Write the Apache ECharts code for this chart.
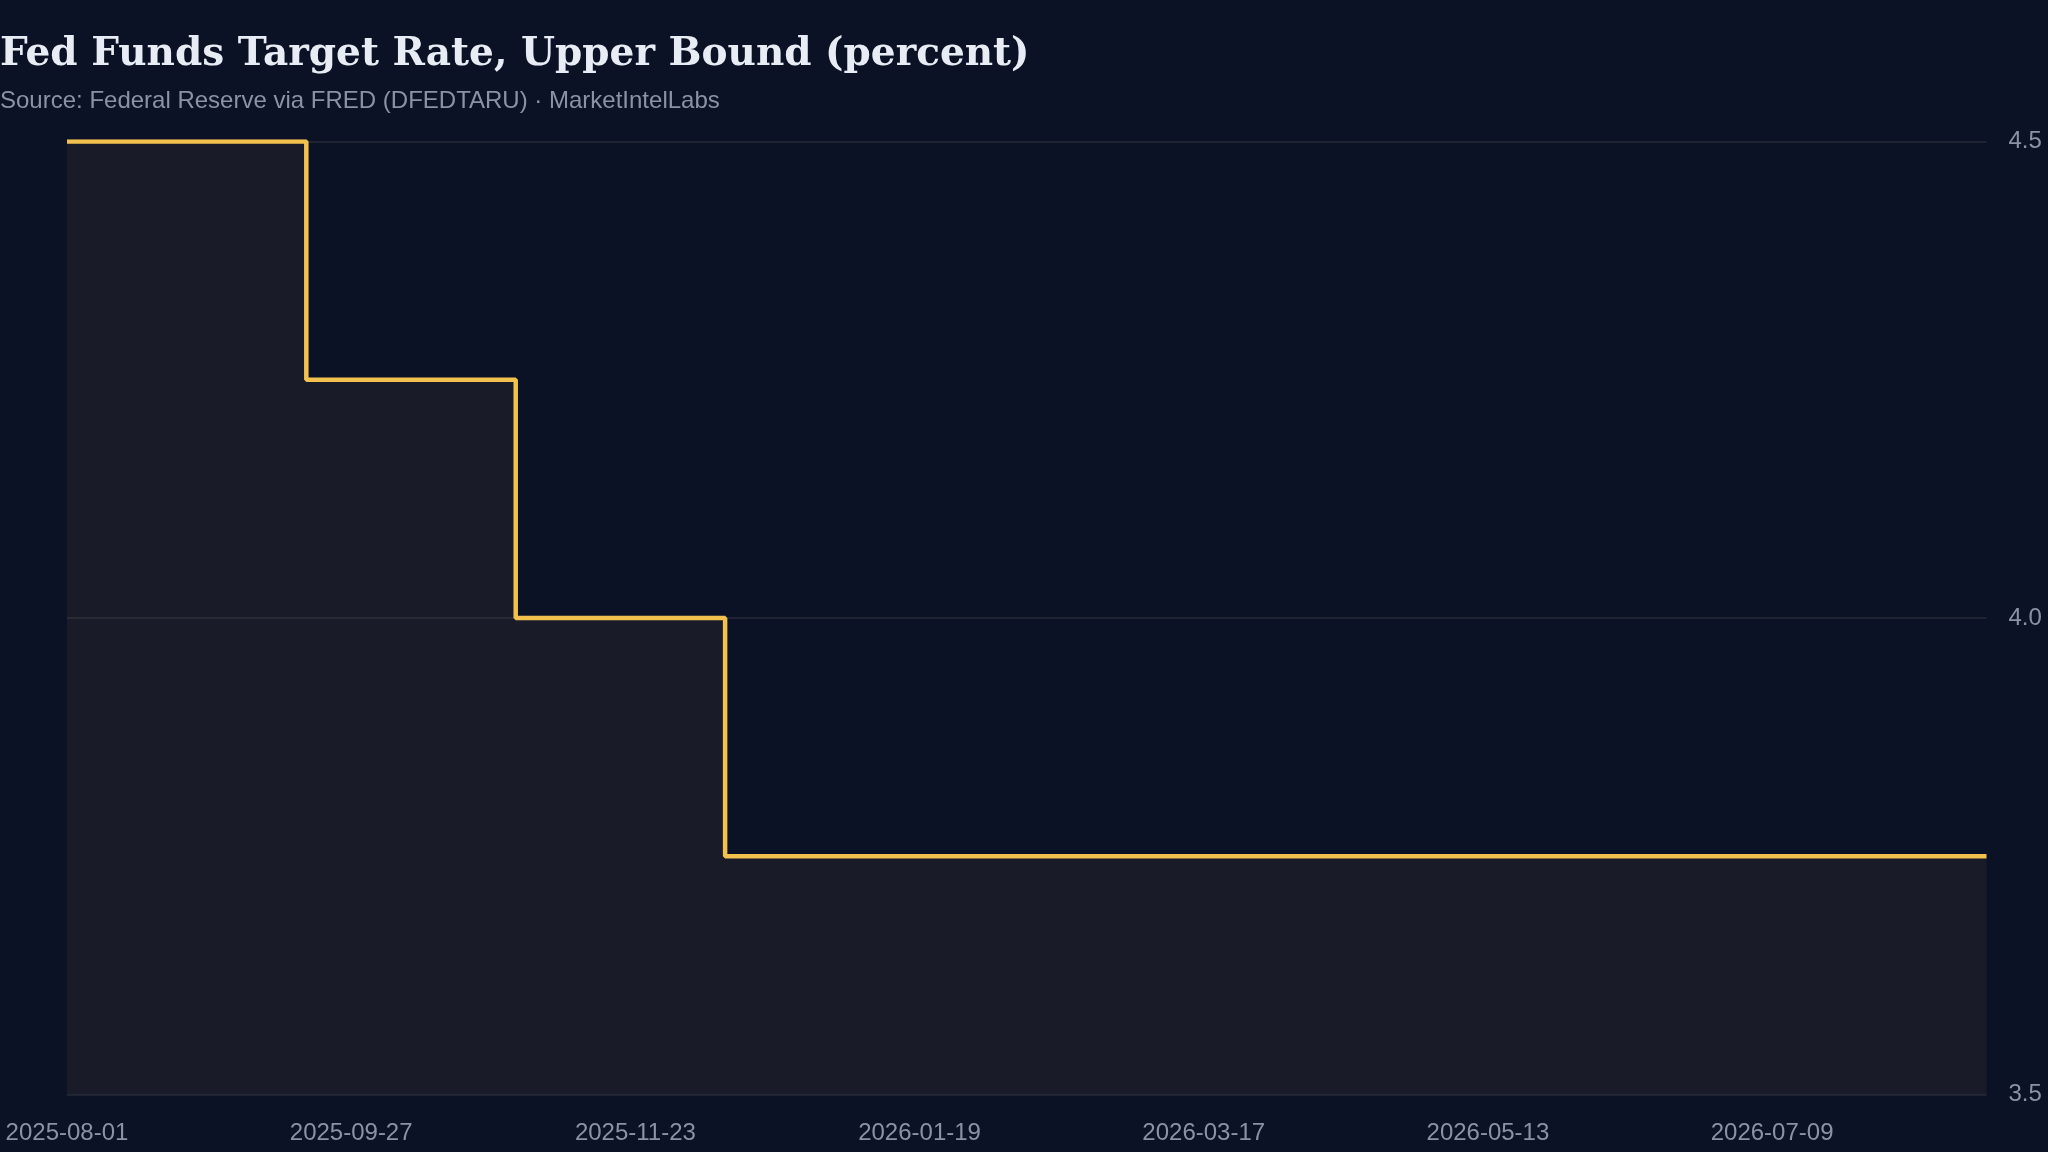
<!DOCTYPE html>
<html>
<head>
<meta charset="utf-8">
<script src="https://cdn.jsdelivr.net/npm/echarts@6/dist/echarts.min.js"></script>
<style>
html,body{margin:0;padding:0;background:#0c1226;}
#c{width:2048px;height:1152px;}
</style>
</head>
<body>
<div id="c"></div>
<script>
// ---- data ----
const startDate = '2025-08-01';
const endDate = '2026-08-21';
const changeDates = ['2025-08-01', '2025-09-18', '2025-10-30', '2025-12-11', '2026-08-21'];
const rates = [4.5, 4.25, 4.0, 3.75, 3.75];
const yMin = 3.5, yMax = 4.5, yStep = 0.5;
const xLabelStepDays = 57;

const DAY = 86400000;
const t0 = Date.parse(startDate + 'T00:00:00Z');
function offset(d) { return Math.round((Date.parse(d + 'T00:00:00Z') - t0) / DAY); }
function fmt(v) {
  const d = new Date(t0 + v * DAY);
  const p = n => String(n).padStart(2, '0');
  return d.getUTCFullYear() + '-' + p(d.getUTCMonth() + 1) + '-' + p(d.getUTCDate());
}
const seriesData = changeDates.map((d, i) => [offset(d), rates[i]]);

const chart = echarts.init(document.getElementById('c'), null, { renderer: 'canvas' });
chart.setOption({
  backgroundColor: '#0c1226',
  animation: false,
  title: {
    text: 'Fed Funds Target Rate, Upper Bound (percent)',
    subtext: 'Source: Federal Reserve via FRED (DFEDTARU) · MarketIntelLabs',
    left: 0,
    top: 35,
    padding: 0,
    itemGap: 15,
    textStyle: { fontFamily: 'DejaVu Serif', fontWeight: 'bold', fontSize: 39, color: '#e8ecf4' },
    subtextStyle: { fontFamily: 'Liberation Sans', fontSize: 24, color: '#8a93a6' }
  },
  grid: { left: 67, right: 61.5, top: 141.5, bottom: 57.5, outerBoundsMode: 'none' },
  xAxis: {
    type: 'value',
    min: 0,
    max: offset(endDate),
    interval: xLabelStepDays,
    axisLine: { show: false },
    axisTick: { show: false },
    splitLine: { show: false },
    axisLabel: {
      showMaxLabel: false,
      margin: 27,
      fontFamily: 'Liberation Sans',
      fontSize: 24,
      color: '#8a93a6',
      formatter: v => fmt(v)
    }
  },
  yAxis: {
    type: 'value',
    position: 'right',
    min: yMin,
    max: yMax,
    interval: yStep,
    axisLine: { show: false },
    axisTick: { show: true, length: 14, lineStyle: { color: '#1e2434', width: 2 } },
    splitLine: { show: true, lineStyle: { color: '#1e2434', width: 2 } },
    axisLabel: {
      margin: 22,
      fontFamily: 'Liberation Sans',
      fontSize: 24,
      color: '#8a93a6',
      formatter: v => v.toFixed(1)
    }
  },
  series: [{
    type: 'line',
    step: 'end',
    data: seriesData,
    showSymbol: false,
    lineStyle: { color: '#f2c14e', width: 4.5 },
    itemStyle: { color: '#f2c14e' },
    areaStyle: { color: 'rgba(242,193,78,0.085)', origin: 'start' }
  }]
});
</script>
</body>
</html>
